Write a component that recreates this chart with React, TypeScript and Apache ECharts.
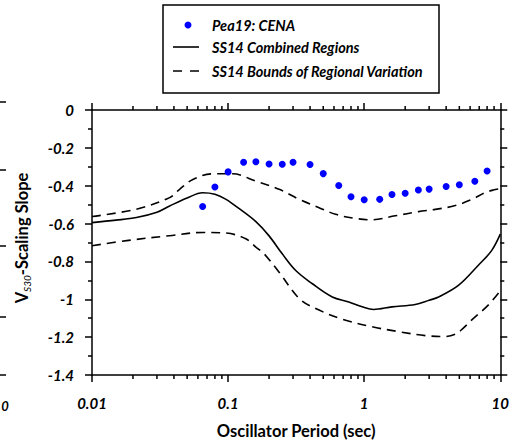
import React, { useEffect, useRef } from "react";
import * as echarts from "echarts";

// Pea19: CENA (blue dots)
const peaPeriods = [0.065, 0.08, 0.1, 0.13, 0.16, 0.2, 0.25, 0.3, 0.4, 0.5, 0.65, 0.8, 1, 1.3, 1.6, 2, 2.5, 3, 4, 5, 6.5, 8];
const peaValues = [-0.51, -0.407, -0.327, -0.276, -0.273, -0.285, -0.287, -0.276, -0.288, -0.336, -0.399, -0.458, -0.474, -0.472, -0.446, -0.44, -0.423, -0.418, -0.404, -0.395, -0.376, -0.322];

// SS14 combined regions (solid)
const combPeriods = [0.01, 0.015, 0.0212, 0.03, 0.0372, 0.05, 0.065, 0.08, 0.0966, 0.12, 0.16, 0.2, 0.25, 0.314, 0.416, 0.583, 0.771, 0.966, 1.175, 1.6, 2.37, 3.0, 3.52, 4.92, 6.9, 8.63, 10];
const combValues = [-0.595, -0.582, -0.568, -0.54, -0.507, -0.465, -0.437, -0.445, -0.472, -0.52, -0.59, -0.665, -0.76, -0.848, -0.918, -0.988, -1.014, -1.04, -1.054, -1.04, -1.028, -1.005, -0.988, -0.927, -0.82, -0.743, -0.656];

// SS14 bounds of regional variation (dashed)
const upperPeriods = [0.01, 0.0212, 0.0372, 0.044, 0.0551, 0.0772, 0.108, 0.16, 0.237, 0.333, 0.466, 0.616, 0.863, 1.14, 1.69, 2.51, 3.33, 4.66, 6.2, 7.7, 8.87, 10];
const upperValues = [-0.563, -0.524, -0.463, -0.419, -0.367, -0.337, -0.337, -0.376, -0.419, -0.472, -0.516, -0.551, -0.573, -0.58, -0.559, -0.537, -0.525, -0.505, -0.472, -0.437, -0.423, -0.416];
const lowerPeriods = [0.01, 0.018, 0.037, 0.065, 0.097, 0.136, 0.16, 0.184, 0.237, 0.333, 0.44, 0.69, 1.14, 1.79, 2.81, 3.93, 4.66, 5.3, 6.15, 8.15, 10];
const lowerValues = [-0.717, -0.69, -0.664, -0.647, -0.65, -0.682, -0.724, -0.76, -0.857, -0.996, -1.049, -1.105, -1.145, -1.171, -1.192, -1.197, -1.185, -1.155, -1.11, -1.031, -0.955];

// log minor tick positions
const minorLogTicks = [0.01, 0.1, 1].flatMap((d) => [2, 3, 4, 5, 6, 7, 8, 9].map((m) => m * d));

const yMin = -1.4;
const yMax = 0;
const xMin = 0.01;
const xMax = 10;

const legendLabels = ["Pea19: CENA", "SS14 Combined Regions", "SS14 Bounds of Regional Variation"];

const FONT = "Lato, 'Open Sans', sans-serif";

export default function App() {
  const ref = useRef<HTMLDivElement>(null);
  useEffect(() => {
    if (!ref.current) return;
    const chart = echarts.init(ref.current, undefined, { renderer: "svg" });
    const pair = (xs: number[], ys: number[]) => xs.map((x, i) => [x, ys[i]]);
    const axisLine = { show: true, onZero: false, lineStyle: { color: "#000", width: 1.5 } };
    const labelStyle = { color: "#000", fontFamily: FONT, fontWeight: "bold", fontStyle: "italic", fontSize: 15 };
    const legendText = { fill: "#000", font: `italic bold 14.5px ${FONT}`, verticalAlign: "middle" };
    const edgeTicks = [102, 170, 246, 317, 375];
    const option: any = {
      animation: false,
      grid: { left: 92, right: 9, top: 110, bottom: 67 },
      xAxis: [
        {
          type: "log", logBase: 10, min: xMin, max: xMax, position: "bottom",
          axisLine, axisTick: { show: true, inside: false, length: 7, lineStyle: { color: "#000", width: 1.5 } },
          axisLabel: { ...labelStyle, margin: 20, formatter: (v: number) => String(v) },
          splitLine: { show: false },
          name: "Oscillator Period (sec)", nameLocation: "middle", nameGap: 47,
          nameTextStyle: { color: "#000", fontFamily: FONT, fontWeight: "bold", fontSize: 16.5 },
        },
        {
          type: "log", logBase: 10, min: xMin, max: xMax, position: "top",
          axisLine, axisTick: { show: true, inside: false, length: 7, lineStyle: { color: "#000", width: 1.5 } },
          axisLabel: { show: false }, splitLine: { show: false },
        },
      ],
      yAxis: [
        {
          type: "value", min: yMin, max: yMax, interval: 0.2, position: "left",
          axisLine, axisTick: { show: true, inside: false, length: 7, lineStyle: { color: "#000", width: 1.5 } },
          minorTick: { show: true, splitNumber: 2, length: 4, lineStyle: { color: "#000", width: 1.5 } },
          axisLabel: { ...labelStyle, margin: 18 },
          splitLine: { show: false },
        },
        {
          type: "value", min: yMin, max: yMax, interval: 0.2, position: "right",
          axisLine, axisTick: { show: true, inside: false, length: 7, lineStyle: { color: "#000", width: 1.5 } },
          minorTick: { show: true, splitNumber: 2, length: 4, lineStyle: { color: "#000", width: 1.5 } },
          axisLabel: { show: false }, splitLine: { show: false },
        },
      ],
      series: [
        {
          name: legendLabels[1], type: "line", data: pair(combPeriods, combValues), showSymbol: false,
          smooth: 0.35, lineStyle: { color: "#000", width: 1.6 }, z: 3,
        },
        {
          name: legendLabels[2], type: "line", data: pair(upperPeriods, upperValues), showSymbol: false,
          smooth: 0.35, lineStyle: { color: "#000", width: 1.6, type: [9, 6] }, z: 3,
        },
        {
          name: legendLabels[2] + " (lower)", type: "line", data: pair(lowerPeriods, lowerValues), showSymbol: false,
          smooth: 0.35, lineStyle: { color: "#000", width: 1.6, type: [9, 6] }, z: 3,
        },
        {
          name: legendLabels[0], type: "scatter", data: pair(peaPeriods, peaValues), symbol: "circle",
          symbolSize: 7, itemStyle: { color: "#0000FF", opacity: 1 }, z: 5,
        },
        {
          name: "minor log ticks", type: "custom", silent: true, clip: false,
          data: minorLogTicks.map((v) => [v, yMin]),
          encode: { x: 0, y: 1 },
          renderItem: (_p: any, api: any) => {
            const v = api.value(0);
            const b = api.coord([v, yMin]);
            const t = api.coord([v, yMax]);
            const st = { stroke: "#000", lineWidth: 1.5 };
            return {
              type: "group",
              children: [
                { type: "line", shape: { x1: b[0], y1: b[1], x2: b[0], y2: b[1] + 4 }, style: st },
                { type: "line", shape: { x1: t[0], y1: t[1], x2: t[0], y2: t[1] - 4 }, style: st },
              ],
            };
          },
        },
      ],
      graphic: [
        // y axis title
        {
          type: "text", x: 22, y: 238, rotation: Math.PI / 2,
          style: {
            text: "{v|V}{s|S30}{v|-Scaling Slope}",
            align: "center", verticalAlign: "middle",
            rich: {
              v: { fill: "#000", fontFamily: FONT, fontWeight: "bold", fontSize: 16.5, lineHeight: 20, verticalAlign: "middle" },
              s: { fill: "#000", fontFamily: FONT, fontStyle: "italic", fontWeight: "normal", fontSize: 10, lineHeight: 20, verticalAlign: "bottom", padding: [7, 0, 0, 0] },
            },
          },
        },
        // legend box
        { type: "rect", shape: { x: 163, y: 5, width: 276, height: 88 }, style: { fill: "#fff", stroke: "#000", lineWidth: 1.5 }, z: 10 },
        { type: "circle", shape: { cx: 188, cy: 25, r: 3.5 }, style: { fill: "#0000FF" }, z: 11 },
        { type: "text", x: 212, y: 25, style: { ...legendText, text: legendLabels[0] }, z: 11 },
        { type: "line", shape: { x1: 173, y1: 47, x2: 199, y2: 47 }, style: { stroke: "#000", lineWidth: 1.6 }, z: 11 },
        { type: "text", x: 212, y: 47, style: { ...legendText, text: legendLabels[1] }, z: 11 },
        { type: "line", shape: { x1: 173, y1: 71, x2: 199, y2: 71 }, style: { stroke: "#000", lineWidth: 1.6, lineDash: [9, 8] }, z: 11 },
        { type: "text", x: 212, y: 71, style: { ...legendText, text: legendLabels[2] }, z: 11 },
        // remnants of neighbouring panel at left edge
        ...edgeTicks.map((y) => ({ type: "line", shape: { x1: 0, y1: y, x2: 6, y2: y }, style: { stroke: "#000", lineWidth: 1.5 } })),
        { type: "text", x: 5, y: 406, style: { text: "0", fill: "#000", font: `italic bold 13px ${FONT}`, align: "center", verticalAlign: "middle" } },
      ],
    };
    chart.setOption(option);
    return () => chart.dispose();
  }, []);
  return <div ref={ref} style={{ width: 512, height: 444, position: "absolute", left: 0, top: 0 }} />;
}
